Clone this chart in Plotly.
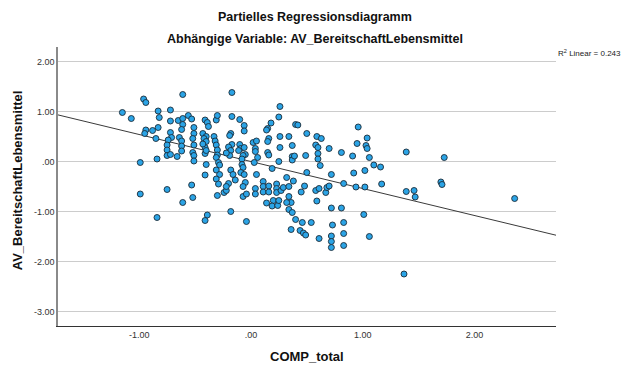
import plotly.graph_objects as go

# Partial regression residuals: COMP_total (x) vs AV_BereitschaftLebensmittel (y)
comp_total = [
    -1.15, -1.07, -0.96, -0.94, -0.99, -0.99, -0.94, -0.95, -0.88, -0.83,
    -0.85, -0.83, -0.82, -0.84, -0.84, -0.75, -0.72, -0.72, -0.72, -0.71,
    -0.74, -0.75, -0.75, -0.75, -0.72, -0.61, -0.65, -0.61, -0.61, -0.62,
    -0.64, -0.62, -0.62, -0.62, -0.66, -0.61, -0.56, -0.53, -0.51, -0.51,
    -0.52, -0.51, -0.52, -0.51, -0.51, -0.53, -0.52, -0.41, -0.39, -0.38,
    -0.43, -0.40, -0.42, -0.40, -0.41, -0.41, -0.40, -0.41, -0.39, -0.41,
    -0.43, -0.40, -0.31, -0.30, -0.33, -0.32, -0.31, -0.30, -0.30, -0.31,
    -0.29, -0.28, -0.31, -0.28, -0.31, -0.29, -0.30, -0.24, -0.22, -0.17,
    -0.17, -0.10, -0.06, -0.06, -0.18, -0.19, -0.17, -0.20, -0.18, -0.19,
    -0.22, -0.10, -0.09, -0.06, -0.11, -0.05, -0.07, -0.08, -0.08, -0.07,
    -0.09, -0.18, -0.16, -0.06, -0.14, -0.05, -0.20, -0.18, -0.07, -0.07,
    -0.04, -0.04, -0.22, 0.02, 0.05, 0.04, 0.04, 0.06, 0.03, 0.05,
    0.04, 0.04, 0.15, 0.18, 0.14, 0.16, 0.15, 0.15, 0.16, 0.19,
    0.11, 0.11, 0.11, 0.16, 0.16, 0.14, 0.25, 0.26, 0.26, 0.26,
    0.25, 0.23, 0.23, 0.23, 0.20, 0.19, 0.27, 0.24, 0.25, 0.34,
    0.37, 0.37, 0.37, 0.39, 0.40, 0.42, 0.38, 0.32, 0.29, 0.34,
    0.34, 0.36, 0.32, 0.34, 0.37, 0.40, 0.36, 0.50, 0.49, 0.50,
    0.48, 0.45, 0.46, 0.54, 0.44, 0.47, 0.49, 0.59, 0.63, 0.58,
    0.60, 0.60, 0.60, 0.62, 0.58, 0.61, 0.59, 0.61, 0.70, 0.72,
    0.67, 0.68, 0.70, 0.72, 0.73, 0.72, 0.72, 0.72, 0.81, 0.91,
    0.96, 1.04, 0.95, 1.03, 1.04, 1.06, 1.10, 1.16, 0.92, 1.02,
    0.83, 0.94, 1.02, 1.17, 0.81, 1.01, 0.83, 0.83, 1.06, 0.83,
    1.39, 1.73, 1.39, 1.46, 1.47, 1.70, 1.71, 1.37, 2.36,
]
av_bereitschaft = [
    0.98, 0.86, 1.25, 1.18, -0.02, -0.65, 0.63, 0.56, 0.62, 0.68,
    0.46, 1.01, 0.88, 0.05, -1.12, -0.56, 1.03, 0.81, 0.58, 0.48,
    0.43, 0.33, 0.23, 0.12, 0.14, 1.34, 0.82, 0.86, 0.74, 0.64,
    0.48, 0.41, 0.31, 0.21, 0.10, -0.82, 0.92, 0.85, 0.68, 0.56,
    0.46, 0.33, 0.18, 0.12, 0.01, -0.47, -0.72, 0.83, 0.78, 0.70,
    0.56, 0.50, 0.46, 0.40, 0.28, 0.16, -0.06, -0.27, -1.07, -1.18,
    0.35, 0.22, 0.83, 0.92, 0.50, 0.41, 0.33, 0.23, 0.13, 0.08,
    -0.02, -0.07, -0.17, -0.26, -0.35, -0.45, -0.68, -0.62, -0.58, 1.38,
    0.90, 0.84, 0.72, 0.61, 0.56, 0.52, 0.34, 0.29, 0.22, 0.12,
    0.17, 0.34, 0.26, 0.28, 0.22, 0.14, 0.12, 0.05, -0.06, -0.12,
    -0.22, -0.17, -0.26, -0.26, -0.37, -0.42, -0.44, -1.00, -0.50, -0.70,
    -0.65, -1.20, -0.50, 0.38, 0.41, 0.26, 0.20, 0.08, -0.02, -0.26,
    -0.54, -0.65, 0.66, 0.77, 0.63, 0.46, 0.40, 0.18, 0.13, -0.14,
    -0.40, -0.50, -0.61, -0.49, -0.61, -0.83, 0.89, 1.10, 0.50, 0.28,
    0.00, -0.45, -0.54, -0.62, -0.78, -0.89, -0.58, -0.88, -0.78, 0.50,
    0.32, 0.10, 0.03, 0.11, 0.74, 0.73, -0.39, -0.32, -0.52, -0.50,
    -0.70, -0.82, -0.82, -0.96, -1.02, -1.16, -1.36, 0.56, 0.12, -0.22,
    -0.49, -0.61, -1.22, -1.22, -1.38, -1.43, -1.47, 0.50, 0.46, 0.33,
    0.28, 0.16, 0.05, -0.08, -0.58, -0.54, -0.79, -1.54, 0.26, -0.26,
    -0.62, -0.52, -0.49, -0.93, -1.27, -1.49, -1.60, -1.72, 0.18, 0.11,
    0.69, 0.47, 0.36, 0.32, 0.26, 0.08, -0.07, -0.11, -0.23, -0.18,
    -0.44, -0.51, -0.51, -0.45, -0.93, -1.06, -1.22, -1.44, -1.50, -1.68,
    0.19, 0.08, -0.60, -0.58, -0.71, -0.41, -0.46, -2.25, -0.74,
]

# Fitted partial regression line (passes through the origin)
fit_slope = -0.54
fit_intercept = 0.0
r_squared = 0.243

x_range = [-1.726, 2.73]
y_range = [-3.29, 2.29]

x_tick_vals = [-1, 0, 1, 2]
x_tick_text = ["-1.00", ".00", "1.00", "2.00"]
y_tick_vals = [-3, -2, -1, 0, 1, 2]
y_tick_text = ["-3.00", "-2.00", "-1.00", ".00", "1.00", "2.00"]

font_family = "Liberation Sans, Arial, sans-serif"

fig = go.Figure()

fig.add_trace(go.Scatter(
    x=x_range,
    y=[fit_intercept + fit_slope * v for v in x_range],
    mode="lines",
    line=dict(color="#3a3a3a", width=1),
    hoverinfo="skip",
    showlegend=False,
))

fig.add_trace(go.Scatter(
    x=comp_total,
    y=av_bereitschaft,
    mode="markers",
    marker=dict(size=6, color="#2ba4e6", line=dict(color="#1b2b38", width=0.9)),
    showlegend=False,
))

fig.update_layout(
    width=628,
    height=367,
    margin=dict(l=58, r=72, t=47, b=41),
    paper_bgcolor="white",
    plot_bgcolor="white",
    font=dict(family=font_family, color="#222"),
    xaxis=dict(
        range=x_range,
        tickvals=x_tick_vals,
        ticktext=x_tick_text,
        showgrid=False,
        zeroline=False,
        showline=True,
        linecolor="#333",
        linewidth=1,
        ticks="",
        tickfont=dict(size=9, color="#333"),
        fixedrange=True,
    ),
    yaxis=dict(
        range=y_range,
        tickvals=y_tick_vals,
        ticktext=y_tick_text,
        showgrid=True,
        gridcolor="#cccccc",
        gridwidth=1,
        zeroline=False,
        showline=True,
        linecolor="#8a8a8a",
        linewidth=1.5,
        ticks="",
        tickfont=dict(size=9, color="#333"),
        fixedrange=True,
    ),
    annotations=[
        dict(text="<b>Partielles Regressionsdiagramm</b>", x=0.516, y=1.108,
             xref="paper", yref="paper", xanchor="center", yanchor="middle",
             showarrow=False, font=dict(size=12.5, color="#111")),
        dict(text="<b>Abhängige Variable: AV_BereitschaftLebensmittel</b>", x=0.516, y=1.029,
             xref="paper", yref="paper", xanchor="center", yanchor="middle",
             showarrow=False, font=dict(size=12.5, color="#111")),
        dict(text=f"R<sup>2</sup> Linear = {r_squared:.3f}", x=1.0, y=0.978,
             xref="paper", yref="paper", xanchor="left", yanchor="middle",
             showarrow=False, font=dict(size=8, color="#222")),
        dict(text="<b>COMP_total</b>", x=0.5, y=-0.11, xref="paper", yref="paper",
             xanchor="center", yanchor="middle", showarrow=False,
             font=dict(size=13, color="#111")),
        dict(text="<b>AV_BereitschaftLebensmittel</b>", x=-0.082, y=0.523,
             xref="paper", yref="paper", xanchor="center", yanchor="middle",
             textangle=-90, showarrow=False, font=dict(size=13, color="#111")),
    ],
)

fig.write_html("out.html")
